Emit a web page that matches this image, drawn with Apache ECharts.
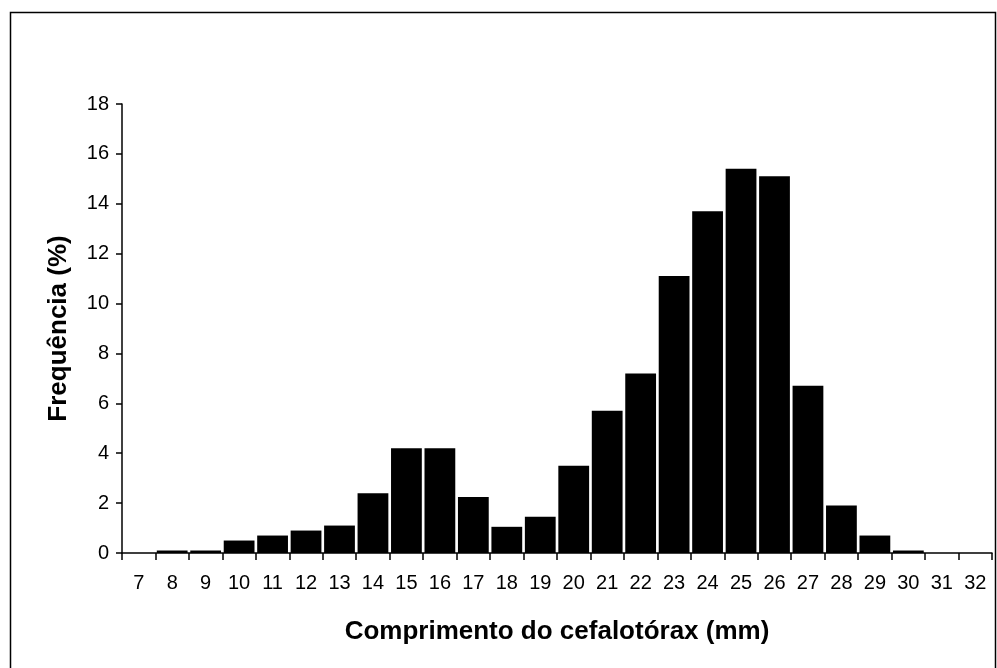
<!DOCTYPE html>
<html>
<head>
<meta charset="utf-8">
<script src="https://cdn.jsdelivr.net/npm/echarts@6/dist/echarts.min.js"></script>
<style>html,body{margin:0;padding:0;background:#fff}#chart{width:997px;height:668px}</style>
</head>
<body>
<div id="chart"></div>
<script>
const categories = ["7","8","9","10","11","12","13","14","15","16","17","18","19","20","21","22","23","24","25","26","27","28","29","30","31","32"]
const frequencia = [0,0.1,0.1,0.5,0.7,0.9,1.1,2.4,4.2,4.2,2.25,1.05,1.45,3.5,5.7,7.2,11.1,13.7,15.4,15.1,6.7,1.9,0.7,0.1,0,0]
const yTicks = { min: 0, max: 18, interval: 2 }

const chart = echarts.init(document.getElementById("chart"))
const font = "'Liberation Sans', Arial, sans-serif"
chart.setOption({
    animation: false,
    graphic: [{
        type: "rect",
        shape: { x: 10.5, y: 12.5, width: 985, height: 670 },
        style: { fill: "none", stroke: "#000", lineWidth: 1.5 }
    }],
    grid: { left: 122, right: 5, top: 104, bottom: 115 },
    xAxis: {
        type: "category",
        data: categories,
        name: "Comprimento do cefalotórax (mm)",
        nameLocation: "middle",
        nameGap: 66,
        nameTextStyle: { fontFamily: font, fontSize: 26, fontWeight: "bold", color: "#000" },
        axisLine: { lineStyle: { color: "#000", width: 1.5 } },
        axisTick: { show: true, alignWithLabel: false, length: 7, lineStyle: { color: "#000", width: 1.5 } },
        axisLabel: { fontFamily: font, fontSize: 20, color: "#000", margin: 20, interval: 0 }
    },
    yAxis: {
        type: "value",
        min: yTicks.min, max: yTicks.max, interval: yTicks.interval,
        name: "Frequência (%)",
        nameLocation: "middle",
        nameGap: 50,
        nameTextStyle: { fontFamily: font, fontSize: 26, fontWeight: "bold", color: "#000" },
        axisLine: { show: true, lineStyle: { color: "#000", width: 1.5 } },
        axisTick: { show: true, length: 6, lineStyle: { color: "#000", width: 1.5 } },
        axisLabel: { fontFamily: font, fontSize: 20, color: "#000", margin: 13 },
        splitLine: { show: false }
    },
    series: [{
        type: "bar",
        data: frequencia,
        barCategoryGap: "8%",
        itemStyle: { color: "#000" }
    }]
})
</script>
</body>
</html>
